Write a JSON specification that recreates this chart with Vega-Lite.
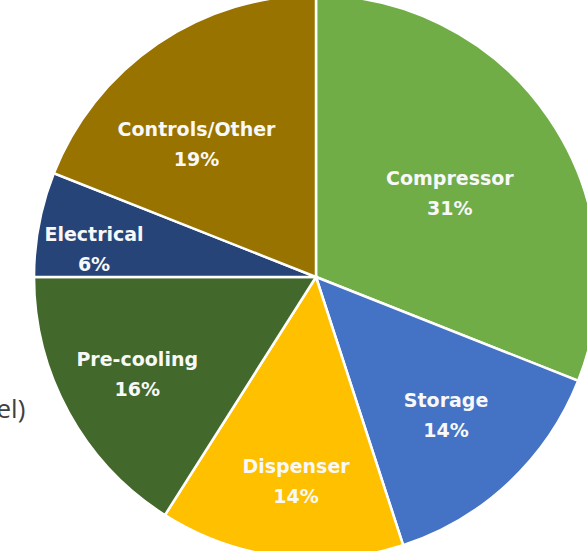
{
  "$schema": "https://vega.github.io/schema/vega-lite/v6.json",
  "width": 632,
  "height": 554,
  "autosize": "none",
  "padding": 0,
  "background": "white",
  "view": {"stroke": null},
  "datasets": {
    "parts": [
      {"part": "Compressor", "share": 0.31, "rank": 1},
      {"part": "Storage", "share": 0.14, "rank": 2},
      {"part": "Dispenser", "share": 0.14, "rank": 3},
      {"part": "Pre-cooling", "share": 0.16, "rank": 4},
      {"part": "Electrical", "share": 0.06, "rank": 5},
      {"part": "Controls/Other", "share": 0.19, "rank": 6}
    ],
    "fragment": [{"t": "el)"}]
  },
  "layer": [
    {
      "data": {"name": "parts"},
      "mark": {"type": "arc", "outerRadius": 282, "stroke": "white", "strokeWidth": 2.5},
      "encoding": {
        "theta": {"field": "share", "type": "quantitative", "stack": true},
        "order": {"field": "rank", "type": "quantitative"},
        "color": {
          "field": "part", "type": "nominal", "legend": null,
          "scale": {
            "domain": ["Compressor", "Storage", "Dispenser", "Pre-cooling", "Electrical", "Controls/Other"],
            "range": ["#70AD47", "#4472C4", "#FFC000", "#43682B", "#264478", "#997300"]
          }
        }
      }
    },
    {
      "data": {"name": "parts"},
      "mark": {
        "type": "text", "font": "DejaVu Sans", "fontWeight": "bold", "fontSize": 19,
        "fill": "#F8F8F8", "baseline": "middle", "align": "center",
        "dx": {"expr": "datum.part === 'Compressor' ? 4 : datum.part === 'Dispenser' ? 6 : datum.part === 'Controls/Other' ? -20 : 0"},
        "dy": {"expr": "-15 + (datum.part === 'Compressor' ? 5 : datum.part === 'Electrical' ? 15 : datum.part === 'Controls/Other' ? 14 : 0)"},
        "radius": {"expr": "datum.part === 'Compressor' ? 157 : datum.part === 'Storage' ? 190 : datum.part === 'Dispenser' ? 207 : datum.part === 'Pre-cooling' ? 204 : datum.part === 'Electrical' ? 226 : 177"}
      },
      "encoding": {
        "theta": {"field": "share", "type": "quantitative", "stack": true},
        "order": {"field": "rank", "type": "quantitative"},
        "detail": {"field": "part", "type": "nominal"},
        "text": {"field": "part", "type": "nominal"}
      }
    },
    {
      "data": {"name": "parts"},
      "mark": {
        "type": "text", "font": "DejaVu Sans", "fontWeight": "bold", "fontSize": 19,
        "fill": "#F8F8F8", "baseline": "middle", "align": "center",
        "dx": {"expr": "datum.part === 'Compressor' ? 4 : datum.part === 'Dispenser' ? 6 : datum.part === 'Controls/Other' ? -20 : 0"},
        "dy": {"expr": "15 + (datum.part === 'Compressor' ? 5 : datum.part === 'Electrical' ? 15 : datum.part === 'Controls/Other' ? 14 : 0)"},
        "radius": {"expr": "datum.part === 'Compressor' ? 157 : datum.part === 'Storage' ? 190 : datum.part === 'Dispenser' ? 207 : datum.part === 'Pre-cooling' ? 204 : datum.part === 'Electrical' ? 226 : 177"}
      },
      "encoding": {
        "theta": {"field": "share", "type": "quantitative", "stack": true},
        "order": {"field": "rank", "type": "quantitative"},
        "detail": {"field": "part", "type": "nominal"},
        "text": {"field": "share", "type": "quantitative", "format": ".0%"}
      }
    },
    {
      "data": {"name": "fragment"},
      "mark": {
        "type": "text", "font": "Open Sans", "fontSize": 26, "fill": "#404040",
        "baseline": "middle", "align": "center", "theta": 4.30, "radius": 333
      },
      "encoding": {
        "text": {"field": "t", "type": "nominal"}
      }
    }
  ]
}
